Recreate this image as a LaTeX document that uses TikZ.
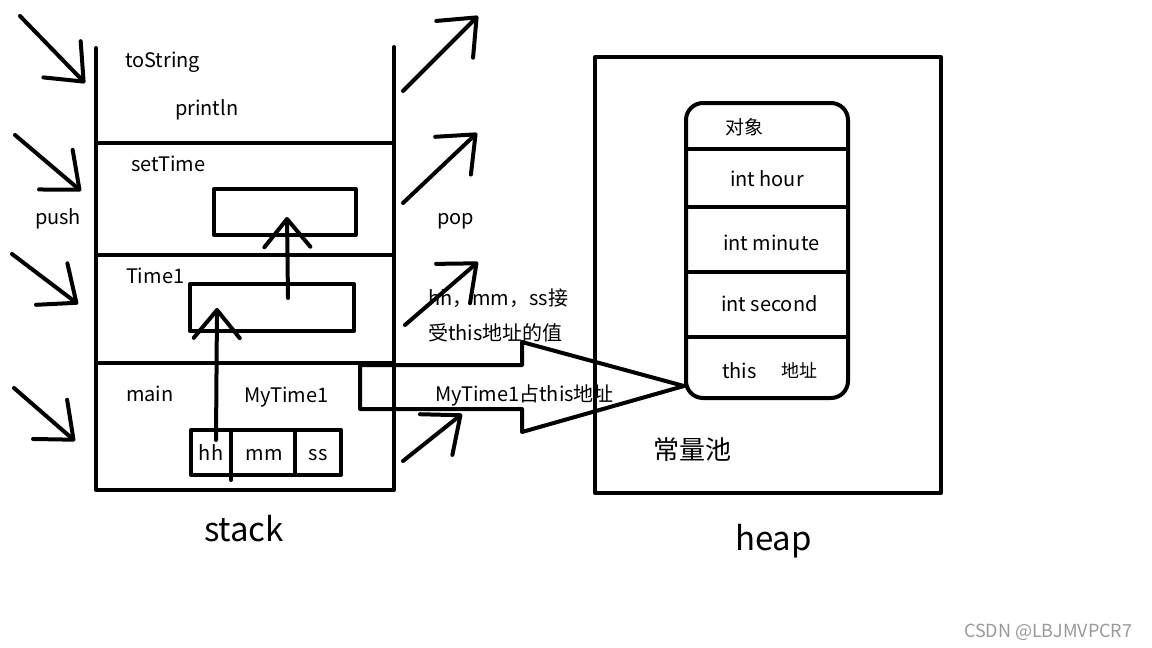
\documentclass[tikz,border=0pt]{standalone}
\usepackage{fontspec}
\setmainfont{Noto Sans CJK SC}
\usetikzlibrary{arrows.meta}
\begin{document}
\begin{tikzpicture}[x=1pt,y=-1pt,line width=4pt,line cap=round,line join=round,
  lbl/.style={anchor=base west,inner sep=0pt,font=\fontsize{20}{22}\selectfont},
  big/.style={anchor=base west,inner sep=0pt,font=\fontsize{33}{36}\selectfont},
  box/.style={draw,line width=4pt,inner sep=0pt},
  barb/.style={-{Straight Barb[length=31pt,width=52pt,line cap=round,line join=round]}},
  sbarb/.style={-{Straight Barb[length=28pt,width=46pt,line cap=round,line join=round]}}]
\useasboundingbox (0,0) rectangle (1152,648);

% ---- stack frame ----
\coordinate (stl) at (96,48);
\coordinate (sbl) at (96,490);
\coordinate (sbr) at (394,490);
\coordinate (str) at (394,47);
\draw (stl) -- (sbl) -- (sbr) -- (str);
\draw (96,143) -- (394,143);
\draw (96,255) -- (394,255);
\draw (96,363) -- (394,363);

% ---- inner boxes ----
\node[box,minimum width=142pt,minimum height=46pt] (setbox) at (285,212) {};
\node[box,minimum width=164pt,minimum height=47pt] (timebox) at (272,307.5) {};
\node[box,minimum width=150pt,minimum height=45pt] (fields) at (266,452.5) {};
\draw (231,430) -- (231,480);
\draw (295,430) -- (295,475);

% ---- inner arrows ----
\coordinate (u1s) at (288,298);
\coordinate (u1e) at (287,217);
\draw[sbarb] (u1s) -- (u1e);
\coordinate (u2s) at (216,440);
\coordinate (u2e) at (217,308);
\draw[sbarb] (u2s) -- (u2e);

% ---- push arrows ----
\coordinate (p1s) at (20,16);  \coordinate (p1e) at (85,83);
\coordinate (p2s) at (15,135); \coordinate (p2e) at (81,191);
\coordinate (p3s) at (12,254); \coordinate (p3e) at (78,304);
\coordinate (p4s) at (14,388); \coordinate (p4e) at (75,441);
\foreach \i in {1,...,4} \draw[barb] (p\i s) -- (p\i e);

% ---- pop arrows ----
\coordinate (q1s) at (403,91);  \coordinate (q1e) at (478,16);
\coordinate (q2s) at (403,203); \coordinate (q2e) at (477,133);
\coordinate (q3s) at (405,325); \coordinate (q3e) at (478,262);
\coordinate (q4s) at (403,461); \coordinate (q4e) at (462,414);
\foreach \i in {1,...,4} \draw[barb] (q\i s) -- (q\i e);

% ---- big outline arrow ----
\coordinate (ba) at (360,365);
\coordinate (bb) at (522,365);
\coordinate (bc) at (522,342);
\coordinate (tip) at (684,386);
\coordinate (bd) at (522,432);
\coordinate (be) at (522,409);
\coordinate (bf) at (360,409);
\draw (ba) -- (bb) -- (bc) -- (tip) -- (bd) -- (be) -- (bf) -- cycle;

% ---- heap ----
\node[box,minimum width=346pt,minimum height=436pt] (heapbox) at (768,275) {};
\draw[rounded corners=17pt] (686,103) rectangle (848,398);
\draw (686,149) -- (848,149);
\draw (686,207) -- (848,207);
\draw (686,272) -- (848,272);
\draw (686,337) -- (848,337);

% ---- texts ----
\node[lbl] (t1) at (123,67) {toString};
\node[lbl] (t2) at (173,115) {println};
\node[lbl] (t3) at (129,171) {setTime};
\node[lbl] (t4) at (33,224) {push};
\node[lbl] (t5) at (435,224) {pop};
\node[lbl] (t6) at (124,283) {Time1};
\node[lbl] (t7) at (124,401) {main};
\node[lbl] (t8) at (242,402) {MyTime1};
\node[lbl,anchor=base] (t9) at (211,460) {hh};
\node[lbl,anchor=base] (t10) at (264,460) {mm};
\node[lbl,anchor=base] (t11) at (318,460) {ss};
\node[lbl] (t12) at (426,305) {hh，mm，ss接};
\node[lbl] (t13) at (426,340) {受this地址的值};
\node[lbl] (t14) at (433,401) {MyTime1占this地址};
\node[lbl,font=\fontsize{19}{21}\selectfont] (t15) at (723,134) {对象};
\node[lbl] (t16) at (728,186) {int hour};
\node[lbl] (t17) at (721,250) {int minute};
\node[lbl] (t18) at (719,311) {int second};
\node[lbl] (t19) at (720,378) {this};
\node[lbl,font=\fontsize{18}{20}\selectfont] (t20) at (779,377) {地址};
\node[lbl,font=\fontsize{26}{29}\selectfont] (t21) at (651,459) {常量池};
\node[big] (t22) at (202,541) {stack};
\node[big] (t23) at (733,550) {heap};
\node[lbl,font=\fontsize{18}{20}\selectfont,text=black!40] (t24) at (962,637) {CSDN @LBJMVPCR7};
\end{tikzpicture}
\end{document}
